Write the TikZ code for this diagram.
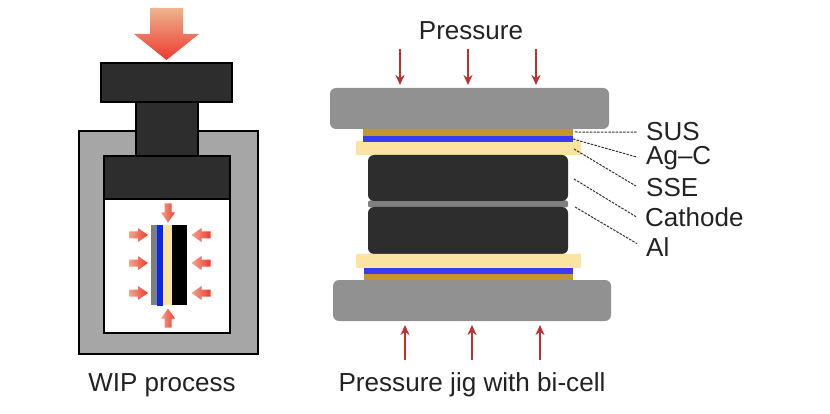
\documentclass[tikz,border=0pt]{standalone}
\usepackage{fontspec}
\setmainfont{Liberation Sans}
\usetikzlibrary{arrows.meta}
\definecolor{darkblock}{HTML}{2D2D2D}
\definecolor{housing}{HTML}{A6A6A6}
\definecolor{plate}{HTML}{919191}
\definecolor{sus}{HTML}{C4962F}
\definecolor{agc}{HTML}{3A3AF0}
\definecolor{sse}{HTML}{FBE3A0}
\definecolor{alfoil}{HTML}{7F7F7F}
\definecolor{pressred}{HTML}{C0302C}
\definecolor{wipblue}{HTML}{0A28F0}
\definecolor{arrowpale}{HTML}{EDB48F}
\definecolor{arrowsoft}{HTML}{F4A58E}
\definecolor{arrowred}{HTML}{EE3A2E}
\definecolor{labeltext}{HTML}{222222}
\tikzset{
  every node/.style={font=\fontsize{26}{30}\selectfont, text=labeltext},
  press/.style={draw=black, line width=1.2pt, fill=darkblock},
  layer/.style={rectangle, inner sep=0pt, outer sep=0pt, minimum width=#1},
  pressarrow/.style={draw=pressred, line width=1.6pt, -{Stealth[length=10pt,width=9pt]}},
  leader/.style={draw=black!80, line width=1pt, dash pattern=on 2.5pt off 1.2pt},
  label/.style={anchor=base west, inner sep=0pt},
  smallarrow/.pic={
    \path[left color=arrowsoft, middle color=arrowred, right color=arrowred]
      (-9.5,-3.5) -- (-0.5,-3.5) -- (-0.5,-7) -- (9.5,0) -- (-0.5,7) -- (-0.5,3.5) -- (-9.5,3.5) -- cycle;
  }
}
\begin{document}
\begin{tikzpicture}[x=1pt, y=-1pt]
  \useasboundingbox (0,0) rectangle (830,414);
  % big arrow
  \path[top color=arrowpale, bottom color=arrowred]
    (150,8) -- (183,8) -- (183,34) -- (199,34) -- (166.5,60) -- (134,34) -- (150,34) -- cycle;
  % WIP vessel
  \draw[line width=1.2pt, fill=housing] (79,131) rectangle (258,354);
  \draw[line width=1.2pt, fill=white] (104,199) rectangle (230,333);
  \draw[press] (104,156) rectangle (230,199);
  \draw[press] (136,102) rectangle (198,156);
  \draw[press] (101,63) rectangle (232,102);
  % bi-cell in the vessel
  \path[fill=alfoil] (151,225) rectangle (157,305);
  \path[fill=sse] (162,225) rectangle (172,305);
  \path[fill=wipblue] (157,225) rectangle (163,306);
  \path[fill=black] (172,225) rectangle (187,305);
  \foreach \y in {235,263,293} {
    \pic at (138.5,\y) {smallarrow};
    \pic[rotate=180] at (201,\y) {smallarrow};
  }
  \pic[rotate=-90] at (168,213) {smallarrow};
  \pic[rotate=90] at (168,318) {smallarrow};
  \node (wiplabel) at (162,385) {WIP process};

  % jig, top part
  \node[layer=225pt, fill=sse, minimum height=14pt, rounded corners=1pt] (topsse) at (468.5,148) {};
  \node[layer=210pt, fill=sus, minimum height=7pt] (topsus) at (468,132.5) {};
  \node[layer=210pt, fill=agc, minimum height=6pt] (topagc) at (468,139) {};
  \node[layer=279pt, fill=plate, minimum height=41pt, rounded corners=6pt] (topplate) at (469.5,108.5) {};
  % cell
  \node[layer=200pt, fill=alfoil, minimum height=7pt, rounded corners=2pt] (alayer) at (468,204) {};
  \node[layer=200pt, fill=darkblock, minimum height=46pt, rounded corners=6pt] (cathodeup) at (468,178) {};
  \node[layer=200pt, fill=darkblock, minimum height=47pt, rounded corners=6pt] (cathodedown) at (468,230.5) {};
  % jig, bottom part
  \node[layer=225pt, fill=sse, minimum height=14pt, rounded corners=1pt] (botsse) at (468.5,261) {};
  \node[layer=209pt, fill=sus, minimum height=7pt] (botsus) at (468.5,276.5) {};
  \node[layer=209pt, fill=agc, minimum height=6pt] (botagc) at (468.5,270.5) {};
  \node[layer=278pt, fill=plate, minimum height=41pt, rounded corners=6pt] (botplate) at (472,300.5) {};

  % pressure arrows
  \foreach \x in {400,468,536} {
    \coordinate (ptop\x) at (\x,49);
    \coordinate (phead\x) at (\x,85);
    \draw[pressarrow] (ptop\x) -- (phead\x);
  }
  \foreach \x in {405,472,540} {
    \coordinate (pbot\x) at (\x,360);
    \coordinate (pend\x) at (\x,325);
    \draw[pressarrow] (pbot\x) -- (pend\x);
  }
  \node (pressurelabel) at (471,31) {Pressure};
  \node[font=\fontsize{26.1}{30}\selectfont] (jiglabel) at (472,385) {Pressure jig with bi-cell};

  % layer names
  \node[label] (suslabel) at (646,141) {SUS};
  \node[label] (agclabel) at (646,165) {Ag–C};
  \node[label] (sselabel) at (646,197) {SSE};
  \node[label] (cathodelabel) at (645,227) {Cathode};
  \node[label] (allabel) at (646,257) {Al};
  \coordinate (susend) at (575,132);
  \coordinate (agcend) at (573,139);
  \coordinate (sseend) at (574,149);
  \coordinate (cathodeend) at (574,179);
  \coordinate (alend) at (575,207);
  \draw[leader] (susend) -- ([xshift=-9pt]suslabel.west);
  \draw[leader] (agcend) -- ([xshift=-9pt,yshift=1.5pt]agclabel.west);
  \draw[leader] (sseend) -- ([xshift=-10pt,yshift=2pt]sselabel.west);
  \draw[leader] (cathodeend) -- ([xshift=-9pt,yshift=1pt]cathodelabel.west);
  \draw[leader] (alend) -- ([xshift=-9pt,yshift=4pt]allabel.west);
\end{tikzpicture}
\end{document}
